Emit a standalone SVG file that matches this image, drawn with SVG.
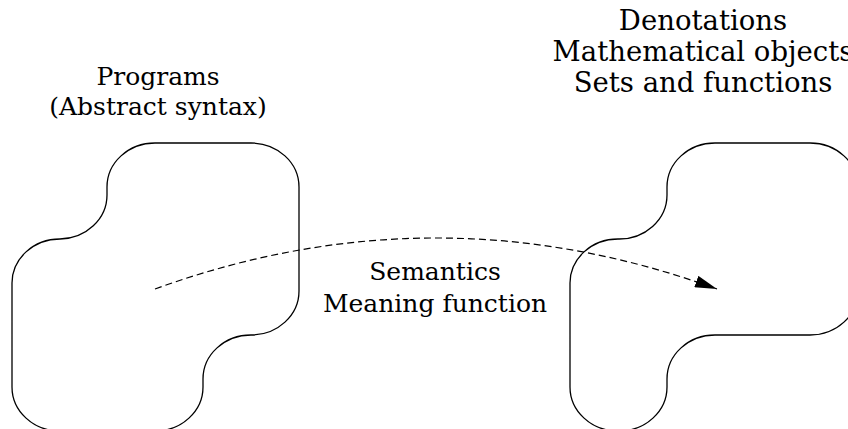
<svg xmlns="http://www.w3.org/2000/svg" width="848" height="429" viewBox="0 0 848 429">
  <style>
    .blob { fill: none; stroke: #000; stroke-width: 1.3; }
    .lbl { font-family: 'DejaVu Serif', serif; font-size: 25px; fill: #000; text-anchor: middle; }
    .big { font-size: 27.5px; }
    .conn { fill: none; stroke: #000; stroke-width: 1.2; stroke-dasharray: 7 4; }
  </style>
  <defs>
    <marker id="arrow" markerUnits="userSpaceOnUse" viewBox="0 0 22 12" markerWidth="22" markerHeight="12" refX="22" refY="6" orient="auto">
      <path d="M0,0 L22,6 L0,12 z" fill="#000"/>
    </marker>
  </defs>
  <rect width="848" height="429" fill="#fff"/>
  <g id="programs">
    <path class="blob" d="M155,143 H251 A48 44 0 0 1 299,187 V291 A48 44 0 0 1 251,335 A48 44 0 0 0 203,379 V387 A48 44 0 0 1 155,431 H60 A48 44 0 0 1 12,387 V283 A48 44 0 0 1 60,239 A48 44 0 0 0 107,195 V187 A48 44 0 0 1 155,143 Z"/>
    <text class="lbl" x="158" y="85">Programs</text>
    <text class="lbl" x="158" y="115">(Abstract syntax)</text>
  </g>
  <g id="denotations">
    <path class="blob" d="M715,143 H810 A48 44 0 0 1 858,187 V291 A48 44 0 0 1 810,335 H715 A48 44 0 0 0 667,379 V387 A48 44 0 0 1 619,431 H618 A48 44 0 0 1 570,387 V283 A48 44 0 0 1 618,239 A48 44 0 0 0 667,195 V187 A48 44 0 0 1 715,143 Z"/>
    <text class="lbl big" x="703" y="30">Denotations</text>
    <text class="lbl big" x="703" y="61">Mathematical objects</text>
    <text class="lbl big" x="703" y="92">Sets and functions</text>
  </g>
  <g id="connectors">
    <path class="conn" d="M155,289 Q436,187 717,289" marker-end="url(#arrow)"/>
    <text class="lbl" x="435" y="280">Semantics</text>
    <text class="lbl" x="435" y="312">Meaning function</text>
  </g>
</svg>
